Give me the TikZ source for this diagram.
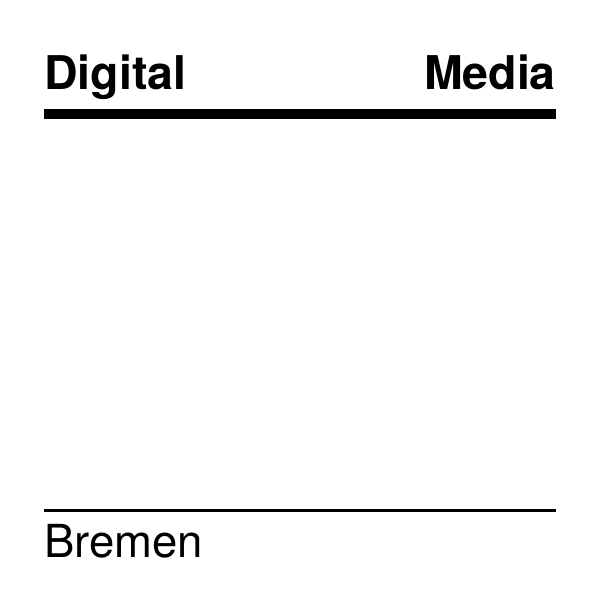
\documentclass[tikz,border=0pt]{standalone}
\usepackage{fontspec}
\setmainfont{TeX Gyre Heros}
\usetikzlibrary{positioning}
\tikzset{
  word/.style={inner sep=0pt,font=\fontsize{45.5}{45.5}\selectfont},
  boldword/.style={word,font=\fontsize{46.5}{46.5}\selectfont\bfseries},
}
\begin{document}
\begin{tikzpicture}[x=1pt,y=-1pt]
    \useasboundingbox[fill=white] (0,0) rectangle (600,600);
    % top: two words over a thick bar
    \node[boldword,anchor=base west] (digital) at (44,89.5) {Digital};
    \node[boldword,anchor=base east] (media) at (556,89.5) {Media};
    \fill[black] (44,109) rectangle (556,119);
    % bottom: thin rule and the city
    \coordinate (ruleL) at (44,510.5);
    \coordinate (ruleR) at (556,510.5);
    \draw[line width=2.6pt] (ruleL) -- (ruleR);
    \node[word,anchor=base west] (bremen) at (44,557) {Bremen};
  \end{tikzpicture}
\end{document}
